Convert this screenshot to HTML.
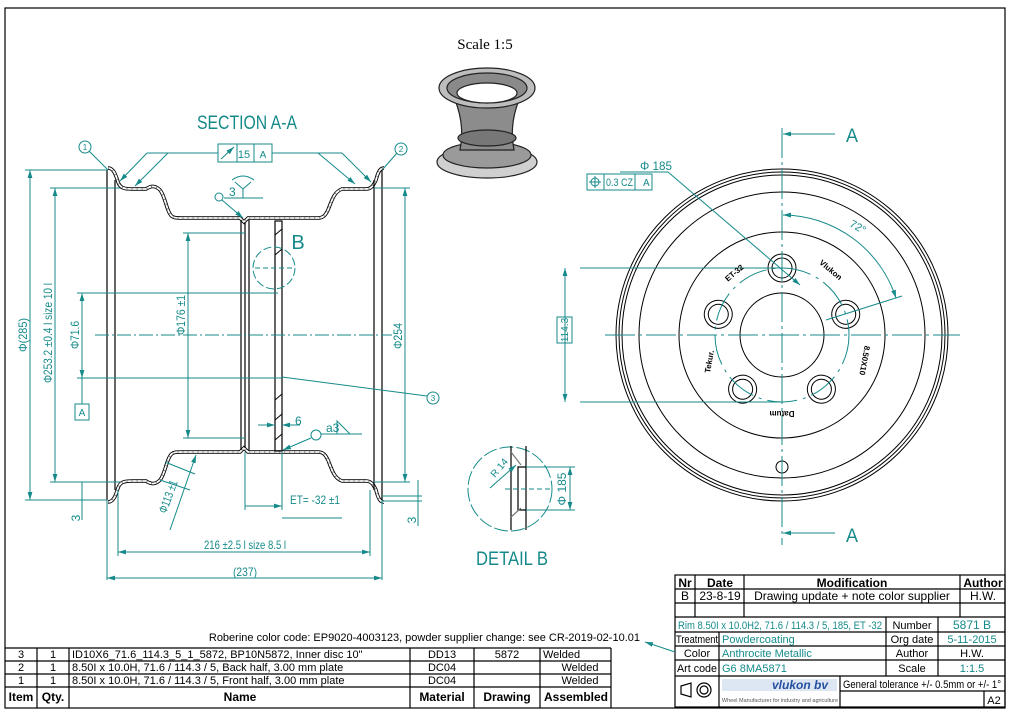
<!DOCTYPE html>
<html><head><meta charset="utf-8"><style>
html,body{margin:0;padding:0;background:#fff}
svg{display:block}
.t{fill:#168a8a;font-family:"Liberation Sans Narrow","Liberation Sans",sans-serif}
.k{fill:#000;font-family:"Liberation Sans",sans-serif}
</style></head><body>
<svg width="1012" height="714" viewBox="0 0 1012 714" xmlns="http://www.w3.org/2000/svg">
<defs>
<marker id="ar" viewBox="0 0 10 6" refX="10" refY="3" markerWidth="8" markerHeight="5" orient="auto-start-reverse"><path d="M0,0L10,3L0,6z" fill="#168a8a"/></marker>
<g id="prof">
<path d="M108,168 C114,168 116,176 118,182 C120,188 124,189 132,189 L146,189 C152,185 156,186 160,190 C165,196 166,208 170,214 C172,218 176,218 182,218 L240,218 L244,222 L248,218 L318,218 C324,218 326,214 328,210 C332,200 334,192 342,189 L366,189 C372,189 374,184 376,180 C378,172 380,168 384,168"/>
</g>
</defs>
<rect x="5" y="8" width="1000" height="700" fill="none" stroke="#000" stroke-width="1.2"/>

<!-- Scale and 3D -->
<text x="485" y="49" text-anchor="middle" font-family="Liberation Serif,serif" font-size="15">Scale 1:5</text>
<g stroke="#222" stroke-width="1.2">
<ellipse cx="487" cy="162" rx="50" ry="16" fill="#d0d0d0"/>
<ellipse cx="487" cy="155" rx="44" ry="13" fill="#9a9a9a"/>
<path d="M455,100 Q465,125 460,150 L514,150 Q509,125 519,100 Z" fill="#8c8c8c"/>
<ellipse cx="487" cy="138" rx="29" ry="8" fill="#777"/>
<ellipse cx="487" cy="88" rx="48" ry="20" fill="#bdbdbd"/>
<ellipse cx="487" cy="88" rx="40" ry="15" fill="#8a8a8a"/>
<ellipse cx="487" cy="93" rx="30" ry="10" fill="#fff"/>
</g>

<!-- SECTION A-A -->
<text class="t" x="197" y="129" font-size="19" textLength="100" lengthAdjust="spacingAndGlyphs">SECTION A-A</text>
<g fill="none">
<use href="#prof" stroke="#000" stroke-width="3.6"/>
<use href="#prof" stroke="#fff" stroke-width="1.8"/>
<use href="#prof" stroke="#888" stroke-width="1.8" stroke-dasharray="1 4"/>
<g transform="translate(0,670) scale(1,-1)">
<use href="#prof" stroke="#000" stroke-width="3.6"/>
<use href="#prof" stroke="#fff" stroke-width="1.8"/>
<use href="#prof" stroke="#888" stroke-width="1.8" stroke-dasharray="1 4"/>
</g>
<g stroke="#000" stroke-width="1.2">
<line x1="107" y1="170" x2="107" y2="500"/><line x1="115" y1="180" x2="115" y2="490"/>
<line x1="374" y1="180" x2="374" y2="490"/><line x1="382" y1="170" x2="382" y2="500"/>
<line x1="241" y1="220" x2="241" y2="450"/><line x1="245" y1="222" x2="245" y2="448"/><line x1="249" y1="220" x2="249" y2="450"/>
<rect x="275" y="221" width="7" height="230"/>
</g>
<path d="M275,235 l7,-6 M275,255 l7,-6 M275,400 l7,-6 M275,420 l7,-6 M275,440 l7,-6" stroke="#000"/>
<line x1="95" y1="335" x2="392" y2="335" stroke="#168a8a" stroke-dasharray="14 3 2 3"/>
</g>

<g stroke="#168a8a" fill="none" stroke-width="1">
<line x1="25" y1="170" x2="107" y2="170"/><line x1="25" y1="500" x2="107" y2="500"/>
<line x1="30" y1="170" x2="30" y2="500" marker-start="url(#ar)" marker-end="url(#ar)"/>
<line x1="50" y1="188" x2="120" y2="188"/><line x1="50" y1="482" x2="120" y2="482"/>
<line x1="55" y1="188" x2="55" y2="482" marker-start="url(#ar)" marker-end="url(#ar)"/>
<line x1="77" y1="293" x2="278" y2="293"/><line x1="77" y1="378" x2="282" y2="378"/>
<line x1="82" y1="293" x2="82" y2="378" marker-start="url(#ar)" marker-end="url(#ar)"/>
<line x1="82" y1="378" x2="82" y2="404"/><rect x="75" y="404" width="14" height="16"/>
<line x1="183" y1="233" x2="245" y2="233"/><line x1="183" y1="438" x2="245" y2="438"/>
<line x1="188" y1="233" x2="188" y2="438" marker-start="url(#ar)" marker-end="url(#ar)"/>
<line x1="374" y1="188" x2="410" y2="188"/><line x1="374" y1="482" x2="410" y2="482"/>
<line x1="405" y1="188" x2="405" y2="482" marker-start="url(#ar)" marker-end="url(#ar)"/>
<line x1="118" y1="490" x2="118" y2="556"/><line x1="370" y1="490" x2="370" y2="556"/>
<line x1="118" y1="552" x2="370" y2="552" marker-start="url(#ar)" marker-end="url(#ar)"/>
<line x1="107" y1="500" x2="107" y2="580"/><line x1="382" y1="500" x2="382" y2="580"/>
<line x1="107" y1="578" x2="382" y2="578" marker-start="url(#ar)" marker-end="url(#ar)"/>
<line x1="245" y1="452" x2="245" y2="510"/><line x1="282" y1="452" x2="282" y2="510"/>
<line x1="245" y1="506" x2="282" y2="506" marker-end="url(#ar)"/><line x1="282" y1="518" x2="342" y2="518"/>
<line x1="82" y1="482" x2="82" y2="520"/><line x1="77" y1="500" x2="107" y2="500"/>
<line x1="418" y1="480" x2="418" y2="526"/><line x1="382" y1="496" x2="422" y2="496"/><line x1="382" y1="501" x2="422" y2="501"/>
<circle cx="85" cy="147" r="6"/><line x1="89" y1="151" x2="108" y2="170"/>
<circle cx="401" cy="149" r="6"/><line x1="397" y1="153" x2="383" y2="169"/>
<circle cx="433" cy="398" r="6"/><line x1="282" y1="377" x2="427" y2="396"/>
<rect x="218" y="144" width="54" height="18"/><line x1="237" y1="144" x2="237" y2="162"/><line x1="254" y1="144" x2="254" y2="162"/>
<line x1="221" y1="159" x2="234" y2="147" marker-end="url(#ar)"/>
<line x1="147" y1="153" x2="218" y2="153"/>
<line x1="147" y1="153" x2="120" y2="181" marker-end="url(#ar)"/>
<line x1="168" y1="153" x2="135" y2="186" marker-end="url(#ar)"/>
<line x1="272" y1="153" x2="342" y2="153"/>
<line x1="318" y1="153" x2="355" y2="184" marker-end="url(#ar)"/>
<line x1="342" y1="153" x2="371" y2="182" marker-end="url(#ar)"/>
<circle cx="219" cy="197" r="4"/><line x1="222" y1="200" x2="243" y2="218" marker-end="url(#ar)"/>
<line x1="224" y1="198" x2="263" y2="198"/><path d="M235,182 L243,189 L251,182 M243,189 V198 M232,180 Q243,172 254,180"/>
<circle cx="274" cy="268" r="21" stroke-dasharray="8 3"/><line x1="255" y1="268" x2="293" y2="268" stroke-dasharray="5 3"/>
<line x1="258" y1="425" x2="275" y2="425" marker-end="url(#ar)"/><line x1="300" y1="425" x2="282" y2="425" marker-end="url(#ar)"/>
<circle cx="316" cy="435" r="5"/><line x1="311" y1="438" x2="283" y2="450" marker-end="url(#ar)"/>
<line x1="321" y1="434" x2="362" y2="434"/><path d="M337,434 V421 L350,434"/>
<line x1="165" y1="462" x2="195" y2="474"/><line x1="160" y1="480" x2="190" y2="490"/>
<line x1="196" y1="455" x2="170" y2="530" marker-start="url(#ar)"/>
</g>
<g class="t" font-size="12">
<text transform="translate(27,335) rotate(-90)" text-anchor="middle" textLength="34" lengthAdjust="spacingAndGlyphs">Φ(285)</text>
<text transform="translate(52,333) rotate(-90)" text-anchor="middle" textLength="100" lengthAdjust="spacingAndGlyphs">Φ253.2 ±0.4 l size 10 l</text>
<text transform="translate(79,335) rotate(-90)" text-anchor="middle" textLength="28" lengthAdjust="spacingAndGlyphs">Φ71.6</text>
<text transform="translate(185,315) rotate(-90)" text-anchor="middle" textLength="40" lengthAdjust="spacingAndGlyphs">Φ176 ±1</text>
<text transform="translate(402,336) rotate(-90)" text-anchor="middle" textLength="26" lengthAdjust="spacingAndGlyphs">Φ254</text>
<text x="245" y="549" text-anchor="middle" textLength="82" lengthAdjust="spacingAndGlyphs">216 ±2.5 l size 8.5 l</text>
<text x="245" y="576" text-anchor="middle" textLength="24" lengthAdjust="spacingAndGlyphs">(237)</text>
<text x="290" y="504" textLength="50" lengthAdjust="spacingAndGlyphs">ET= -32 ±1</text>
<text transform="translate(80,518) rotate(-90)" text-anchor="middle">3</text>
<text transform="translate(416,520) rotate(-90)" text-anchor="middle">3</text>
<text transform="translate(172,498) rotate(-70)" text-anchor="middle" textLength="34" lengthAdjust="spacingAndGlyphs">Φ113 ±1</text>
<text x="229" y="196">3</text><text x="295" y="425">6</text><text x="326" y="432">a3</text>
<text x="244" y="158" text-anchor="middle" font-size="11">15</text><text x="263" y="158" text-anchor="middle" font-size="10">A</text>
<text x="82" y="416" text-anchor="middle" font-size="10">A</text>
<text x="298" y="249" text-anchor="middle" font-size="20">B</text>
<text x="85" y="150" text-anchor="middle" font-size="8">1</text><text x="401" y="152" text-anchor="middle" font-size="8">2</text><text x="433" y="401" text-anchor="middle" font-size="8">3</text>
</g>

<!-- DETAIL B -->
<g fill="none">
<circle cx="510" cy="489" r="42" stroke="#168a8a" stroke-dasharray="14 3"/>
<g stroke="#000" stroke-width="1.2"><line x1="511" y1="446" x2="511" y2="530"/><line x1="526" y1="446" x2="526" y2="530"/><path d="M526,467 H518 V510 H526"/><path d="M511,452 L521,465 M511,517 L521,508" stroke="#777"/></g>
<g stroke="#168a8a"><line x1="526" y1="467" x2="575" y2="467"/><line x1="526" y1="510" x2="575" y2="510"/><line x1="570" y1="467" x2="570" y2="510" marker-start="url(#ar)" marker-end="url(#ar)"/><line x1="490" y1="488" x2="516" y2="465" marker-end="url(#ar)"/><line x1="505" y1="489" x2="550" y2="489" stroke-dasharray="5 3"/></g>
</g>
<text class="t" transform="translate(495,478) rotate(-50)" font-size="10">R 14</text>
<text class="t" transform="translate(566,489) rotate(-90)" text-anchor="middle" font-size="12">Φ 185</text>
<text class="t" x="476" y="565" font-size="19" textLength="72" lengthAdjust="spacingAndGlyphs">DETAIL B</text>

<!-- Front view -->
<g fill="none" stroke="#000" stroke-width="1">
<circle cx="782" cy="335" r="166"/><circle cx="782" cy="335" r="163"/><circle cx="782" cy="335" r="160"/>
<circle cx="782" cy="335" r="143"/><circle cx="782" cy="335" r="103"/><circle cx="782" cy="335" r="42"/>
<circle cx="782" cy="467" r="6"/>
<g id="bh"><circle cx="782" cy="268" r="14"/><circle cx="782" cy="268" r="10"/></g>
<use href="#bh" transform="rotate(72 782 335)"/><use href="#bh" transform="rotate(144 782 335)"/><use href="#bh" transform="rotate(216 782 335)"/><use href="#bh" transform="rotate(288 782 335)"/>
</g>
<g fill="none" stroke="#168a8a">
<circle cx="782" cy="335" r="67" stroke-dasharray="30 6 3 6"/>
<line x1="782" y1="128" x2="782" y2="545" stroke-dasharray="30 4 3 4"/>
<line x1="605" y1="335" x2="960" y2="335" stroke-dasharray="30 4 3 4"/>
<line x1="835" y1="134" x2="783" y2="134" marker-end="url(#ar)"/><line x1="835" y1="533" x2="783" y2="533" marker-end="url(#ar)"/>
<rect x="587" y="174" width="65" height="16"/><line x1="604" y1="174" x2="604" y2="190"/><line x1="635" y1="174" x2="635" y2="190"/>
<circle cx="595" cy="182" r="4"/><line x1="589" y1="182" x2="601" y2="182"/><line x1="595" y1="176" x2="595" y2="188"/>
<line x1="620" y1="172" x2="668" y2="172"/><line x1="668" y1="172" x2="800" y2="285" marker-end="url(#ar)"/>
<line x1="580" y1="268" x2="782" y2="268"/><line x1="580" y1="402" x2="782" y2="402"/>
<line x1="565" y1="268" x2="565" y2="402" marker-start="url(#ar)" marker-end="url(#ar)"/>
<rect x="557" y="317" width="15" height="26"/>
<path d="M783,215 A120,120 0 0 1 896,298" marker-start="url(#ar)" marker-end="url(#ar)"/>
<line x1="826" y1="320" x2="902" y2="296"/>
</g>
<g class="t" font-size="12">
<text x="846" y="142" font-size="19" textLength="12" lengthAdjust="spacingAndGlyphs">A</text><text x="846" y="542" font-size="19" textLength="12" lengthAdjust="spacingAndGlyphs">A</text>
<text x="640" y="170" textLength="32" lengthAdjust="spacingAndGlyphs">Φ 185</text>
<text x="606" y="186" font-size="11" textLength="27" lengthAdjust="spacingAndGlyphs">0.3 CZ</text><text x="643" y="186" font-size="10">A</text>
<text transform="translate(568,330) rotate(-90)" text-anchor="middle" font-size="10">114.3</text>
<text transform="translate(856,230) rotate(30)" text-anchor="middle" font-size="11">72°</text>
</g>
<g class="k" font-size="8" font-weight="bold">
<text transform="translate(736,275) rotate(-40)" text-anchor="middle">ET-32</text>
<text transform="translate(829,272) rotate(40)" text-anchor="middle">Vlukon</text>
<text transform="translate(712,362) rotate(-80)" text-anchor="middle">Tekur.</text>
<text transform="translate(862,360) rotate(100)" text-anchor="middle">8.50X10</text>
<text transform="translate(782,411) rotate(180)" text-anchor="middle">Datum</text>
</g>

<!-- Revision & title block -->
<g fill="none" stroke="#000" stroke-width="1.2">
<rect x="675" y="575" width="330" height="132"/>
<line x1="675" y1="589" x2="1005" y2="589"/><line x1="675" y1="603" x2="1005" y2="603"/><line x1="675" y1="617" x2="1005" y2="617"/>
<line x1="695" y1="575" x2="695" y2="617"/><line x1="744" y1="575" x2="744" y2="617"/><line x1="960" y1="575" x2="960" y2="617"/>
<line x1="675" y1="632" x2="1005" y2="632"/><line x1="675" y1="646" x2="1005" y2="646"/><line x1="675" y1="660" x2="1005" y2="660"/><line x1="675" y1="676" x2="1005" y2="676"/>
<line x1="719" y1="632" x2="719" y2="707"/><line x1="886" y1="617" x2="886" y2="676"/><line x1="938" y1="617" x2="938" y2="676"/>
<line x1="840" y1="676" x2="840" y2="707"/><line x1="840" y1="691" x2="1005" y2="691"/><line x1="984" y1="691" x2="984" y2="707"/>
<path d="M681,686 L691,683 V697 L681,694 Z"/><circle cx="704" cy="690" r="7"/><circle cx="704" cy="690" r="4"/>
</g>
<line x1="675" y1="652" x2="645" y2="642" stroke="#168a8a" marker-end="url(#ar)"/>
<g class="k" font-size="12">
<text x="685" y="587" text-anchor="middle" font-weight="bold">Nr</text>
<text x="720" y="587" text-anchor="middle" font-weight="bold">Date</text>
<text x="852" y="587" text-anchor="middle" font-weight="bold">Modification</text>
<text x="983" y="587" text-anchor="middle" font-weight="bold">Author</text>
<text x="685" y="600" text-anchor="middle">B</text>
<text x="720" y="600" text-anchor="middle">23-8-19</text>
<text x="852" y="600" text-anchor="middle">Drawing update + note color supplier</text>
<text x="983" y="600" text-anchor="middle">H.W.</text>
</g>
<g font-family="Liberation Sans Narrow,Liberation Sans,sans-serif" font-size="11">
<text class="t" x="678" y="629" textLength="204" lengthAdjust="spacingAndGlyphs">Rim 8.50I x 10.0H2, 71.6 / 114.3 / 5, 185, ET -32</text>
<text x="912" y="629" text-anchor="middle">Number</text><text class="t" x="972" y="629" text-anchor="middle" font-size="12">5871  B</text>
<text x="676" y="643" textLength="42" lengthAdjust="spacingAndGlyphs">Treatment</text><text class="t" x="722" y="643">Powdercoating</text>
<text x="912" y="643" text-anchor="middle">Org date</text><text class="t" x="972" y="643" text-anchor="middle">5-11-2015</text>
<text x="697" y="657" text-anchor="middle">Color</text><text class="t" x="722" y="657">Anthrocite Metallic</text>
<text x="912" y="657" text-anchor="middle">Author</text><text x="972" y="657" text-anchor="middle">H.W.</text>
<text x="677" y="672" textLength="40" lengthAdjust="spacingAndGlyphs">Art code</text><text class="t" x="722" y="672">G6 8MA5871</text>
<text x="912" y="672" text-anchor="middle">Scale</text><text class="t" x="972" y="672" text-anchor="middle">1:1.5</text>
<text x="843" y="688" textLength="158" lengthAdjust="spacingAndGlyphs">General tolerance +/- 0.5mm or +/- 1°</text>
<text x="994" y="704" text-anchor="middle">A2</text>
</g>
<rect x="722" y="679" width="115" height="12" fill="#dde6f3"/>
<text x="800" y="689" fill="#2550a0" font-family="Liberation Sans,sans-serif" font-size="12" font-weight="bold" font-style="italic" text-anchor="middle">vlukon bv</text>
<text x="780" y="702" fill="#555" font-family="Liberation Sans,sans-serif" font-size="5.5" text-anchor="middle">Wheel Manufacturer for industry and agriculture</text>

<!-- Parts list -->
<text class="k" x="640" y="641" text-anchor="end" font-size="11">Roberine color code: EP9020-4003123, powder supplier change: see CR-2019-02-10.01</text>
<g fill="none" stroke="#000" stroke-width="1.2">
<line x1="5" y1="648" x2="611" y2="648"/><line x1="5" y1="661" x2="611" y2="661"/><line x1="5" y1="674" x2="611" y2="674"/><line x1="5" y1="687" x2="611" y2="687"/>
<line x1="611" y1="648" x2="611" y2="708"/>
<line x1="37" y1="648" x2="37" y2="708"/><line x1="69" y1="648" x2="69" y2="708"/><line x1="410" y1="648" x2="410" y2="708"/><line x1="474" y1="648" x2="474" y2="708"/><line x1="540" y1="648" x2="540" y2="708"/>
</g>
<g class="k" font-size="11">
<text x="21" y="658" text-anchor="middle">3</text><text x="53" y="658" text-anchor="middle">1</text><text x="72" y="658">ID10X6_71.6_114.3_5_1_5872, BP10N5872, Inner disc 10"</text><text x="442" y="658" text-anchor="middle">DD13</text><text x="507" y="658" text-anchor="middle">5872</text><text x="543" y="658">Welded</text>
<text x="21" y="671" text-anchor="middle">2</text><text x="53" y="671" text-anchor="middle">1</text><text x="72" y="671">8.50I x 10.0H,  71.6 / 114.3 / 5, Back half, 3.00 mm plate</text><text x="442" y="671" text-anchor="middle">DC04</text><text x="580" y="671" text-anchor="middle">Welded</text>
<text x="21" y="684" text-anchor="middle">1</text><text x="53" y="684" text-anchor="middle">1</text><text x="72" y="684">8.50I x 10.0H,  71.6 / 114.3 / 5, Front half, 3.00 mm plate</text><text x="442" y="684" text-anchor="middle">DC04</text><text x="580" y="684" text-anchor="middle">Welded</text>
<g font-weight="bold" font-size="12"><text x="21" y="701" text-anchor="middle">Item</text><text x="53" y="701" text-anchor="middle">Qty.</text><text x="240" y="701" text-anchor="middle">Name</text><text x="442" y="701" text-anchor="middle">Material</text><text x="507" y="701" text-anchor="middle">Drawing</text><text x="576" y="701" text-anchor="middle">Assembled</text></g>
</g>
</svg>
</body></html>
